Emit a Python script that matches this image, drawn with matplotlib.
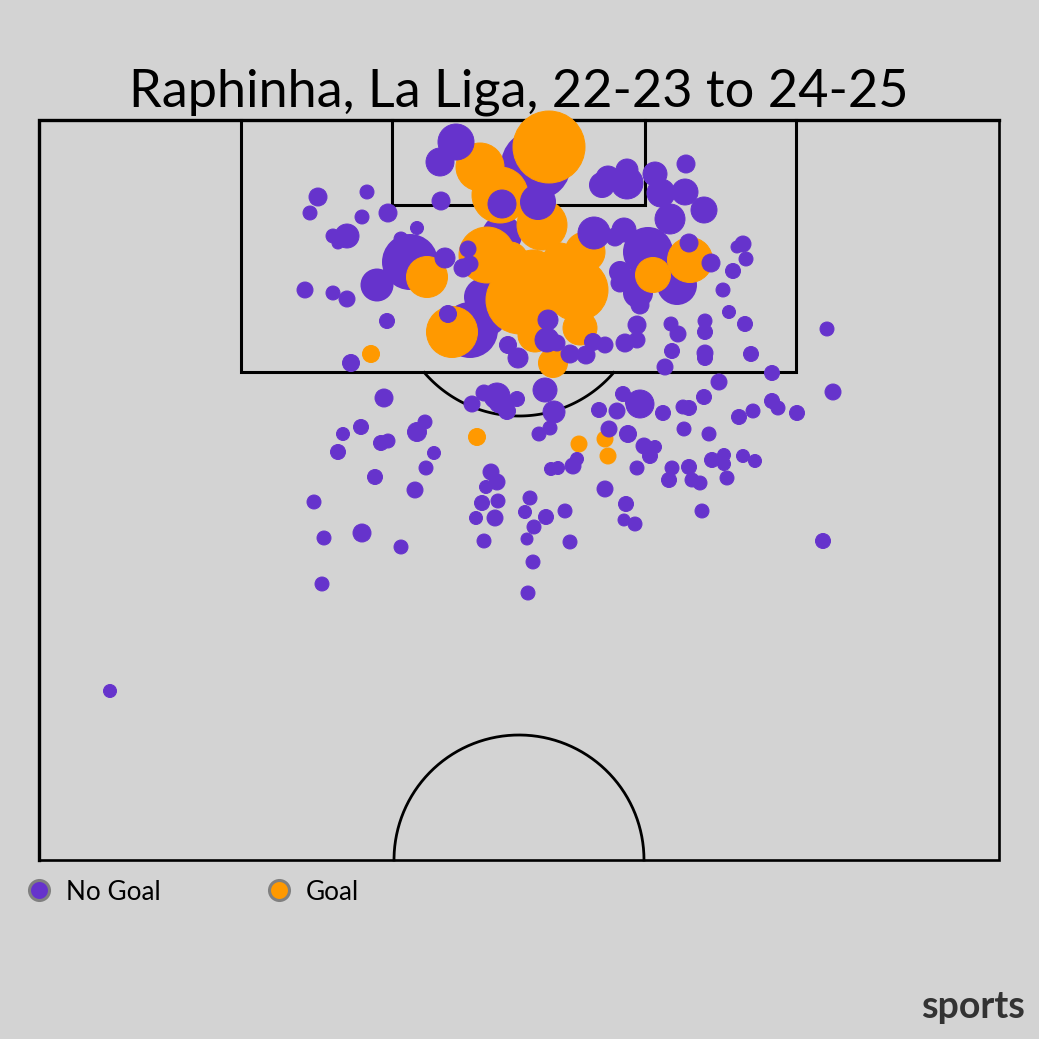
#!/usr/bin/env python3
import numpy as np
import matplotlib
matplotlib.use('Agg')
import matplotlib.pyplot as plt

# shot positions: x, y and marker diameter, all in image pixels
# misses drawn under the goals
miss_back_x = [536, 502, 410, 377, 483, 470, 648, 677, 638, 620, 632, 520, 490]
miss_back_y = [165, 235, 262, 285, 297, 330, 252, 285, 293, 272, 282, 175, 320]
miss_back_d = [70, 40, 56, 33, 38, 56, 50, 40, 30, 22, 24, 30, 30]

# goals
goal_x = [549, 480, 500, 542, 585, 560, 487, 510, 520, 577, 560, 533, 427, 452, 580, 535, 553, 653, 690,
          371, 477, 579, 605, 608]
goal_y = [147, 167, 195, 225, 252, 260, 255, 260, 300, 290, 287, 275, 277, 332, 328, 335, 363, 275, 260,
          354, 437, 444, 439, 456]
goal_d = [72, 48, 56, 50, 40, 34, 56, 36, 68, 62, 48, 50, 41, 51, 34, 34, 29, 35, 45,
          17, 17, 16, 16, 16]

# misses drawn over the goals
miss_x = [456, 440, 502, 538, 441, 602, 608, 627, 627, 655, 661, 685, 686, 670, 704, 594, 624, 615,
          689, 711, 318, 310, 367, 362, 388, 333, 347, 338, 401, 417, 445, 463, 468, 305, 333, 347, 387, 351, 448,
          508, 518, 548, 547, 557, 570, 586, 593, 605, 625, 637, 637, 671, 678, 672, 665, 705, 705, 705, 705, 719,
          723, 729, 733, 737, 743, 746, 745, 751, 772, 827, 833, 797, 778, 772, 753, 739, 704, 689, 683, 684, 709,
          663, 640, 634, 623, 617, 599, 609, 628, 644, 655, 650, 637, 672, 689, 669, 692, 700, 712, 724, 724, 727,
          743, 755, 702, 823, 605, 626, 624, 635,
          472, 484, 497, 500, 507, 517, 545, 554, 550, 539, 384, 425, 417, 361, 343, 381, 388, 338, 434, 426, 375,
          415, 491, 486, 497, 498, 482, 476, 495, 530, 525, 546, 565, 534, 527, 570, 484, 533, 528, 401, 362, 324,
          314, 322, 110, 551, 558, 573, 577, 620, 470, 620, 640]
miss_y = [142, 162, 204, 202, 201, 185, 178, 183, 170, 174, 193, 192, 164, 219, 210, 233, 230, 237,
          243, 263, 197, 213, 192, 217, 213, 236, 236, 243, 239, 228, 258, 268, 249, 290, 293, 299, 321, 363, 314,
          345, 358, 320, 340, 343, 354, 355, 342, 345, 343, 340, 325, 324, 334, 351, 367, 321, 332, 353, 358, 382,
          290, 312, 271, 247, 244, 259, 324, 354, 373, 329, 392, 413, 408, 401, 411, 417, 397, 408, 407, 429, 434,
          413, 404, 402, 394, 411, 410, 429, 434, 446, 447, 456, 468, 468, 467, 480, 480, 483, 460, 455, 464, 478,
          456, 461, 511, 541, 489, 504, 520, 524,
          404, 393, 396, 402, 411, 399, 390, 412, 428, 434, 398, 422, 432, 427, 434, 443, 441, 452, 453, 468, 477,
          490, 472, 487, 482, 501, 503, 518, 518, 498, 512, 517, 511, 527, 539, 542, 541, 562, 593, 547, 533, 538,
          502, 584, 691, 469, 468, 466, 459, 270, 264, 283, 305]
miss_d = [36, 28, 28, 35, 18, 25, 24, 32, 22, 24, 28, 26, 18, 30, 26, 32, 24, 18,
          18, 18, 18, 14, 14, 14, 18, 14, 24, 12, 14, 13, 20, 18, 16, 16, 14, 16, 15, 17, 17,
          17, 20, 20, 24, 16, 18, 18, 17, 16, 18, 16, 18, 14, 16, 15, 16, 14, 15, 16, 15, 16,
          14, 13, 15, 12, 16, 14, 15, 15, 15, 14, 16, 15, 14, 15, 14, 15, 15, 15, 14, 14, 14,
          15, 28, 17, 15, 16, 15, 16, 17, 16, 13, 15, 14, 14, 15, 15, 14, 14, 15, 13, 13, 14,
          13, 13, 14, 15, 16, 15, 12, 14,
          16, 16, 26, 22, 17, 15, 24, 22, 14, 14, 18, 14, 19, 15, 13, 15, 14, 15, 13, 14, 15,
          16, 16, 13, 16, 14, 15, 13, 16, 14, 13, 15, 14, 14, 12, 14, 14, 14, 14, 14, 18, 14,
          14, 14, 13, 13, 13, 16, 13, 16, 16, 18, 18]

PURPLE = '#6633cc'
ORANGE = '#ff9900'
BG = '#d3d3d3'
DPI = 100


def px_size(d):
    # marker area in points^2 for a diameter given in pixels
    return (np.asarray(d) * 72.0 / DPI) ** 2


fig = plt.figure(figsize=(10.39, 10.39), dpi=DPI, facecolor=BG)
ax = fig.add_axes([0, 0, 1, 1])
ax.set_xlim(0, 1039)
ax.set_ylim(1039, 0)
ax.axis('off')

# pitch outline and boxes, top and left edges come out heavier in the original
ax.plot([39, 39, 999], [860, 120, 120], color='k', lw=2.4, solid_joinstyle='miter', zorder=1)
ax.plot([999, 999, 39], [120, 860, 860], color='k', lw=1.9, solid_joinstyle='miter', zorder=1)
ax.plot([241, 241, 796, 796], [120, 372, 372, 120], color='k', lw=2.2, solid_joinstyle='miter', zorder=1)
ax.plot([392, 392, 645, 645], [120, 205, 205, 120], color='k', lw=2.2, solid_joinstyle='miter', zorder=1)

theta = np.linspace(0, np.pi, 200)
ax.plot(519 + 125 * np.cos(theta), 860 - 125 * np.sin(theta), color='k', lw=2.0, zorder=1)
arc_x = 519 + 125 * np.cos(theta)
arc_y = 291 + 125 * np.sin(theta)
keep = arc_y >= 372
ax.plot(arc_x[keep], arc_y[keep], color='k', lw=2.0, zorder=1)

# shots
ax.scatter(miss_back_x, miss_back_y, s=px_size(miss_back_d), color=PURPLE, linewidths=0, zorder=2)
ax.scatter(goal_x, goal_y, s=px_size(goal_d), color=ORANGE, linewidths=0.7, zorder=3)
ax.scatter(miss_x, miss_y, s=px_size(miss_d), color=PURPLE, linewidths=0.7, zorder=4)

# title
ax.text(519, 92, 'Raphinha, La Liga, 22-23 to 24-25', family='Lato', fontsize=37.6, color='k',
        ha='center', va='center', zorder=5)

# legend
ax.scatter([39], [890], s=px_size(20), color=PURPLE, edgecolors='#808080', linewidths=2.2, zorder=5)
ax.scatter([279], [890], s=px_size(20), color=ORANGE, edgecolors='#808080', linewidths=2.2, zorder=5)
ax.text(66, 893, 'No Goal', family='Lato', fontsize=18.8, color='k', ha='left', va='center')
ax.text(306, 893, 'Goal', family='Lato', fontsize=18.8, color='k', ha='left', va='center')

# watermark
ax.text(1025, 1007, 'sports', family='Lato', weight='bold', fontsize=27, color='#333333', ha='right', va='center')

fig.savefig('out.png', dpi=DPI, facecolor=BG)
